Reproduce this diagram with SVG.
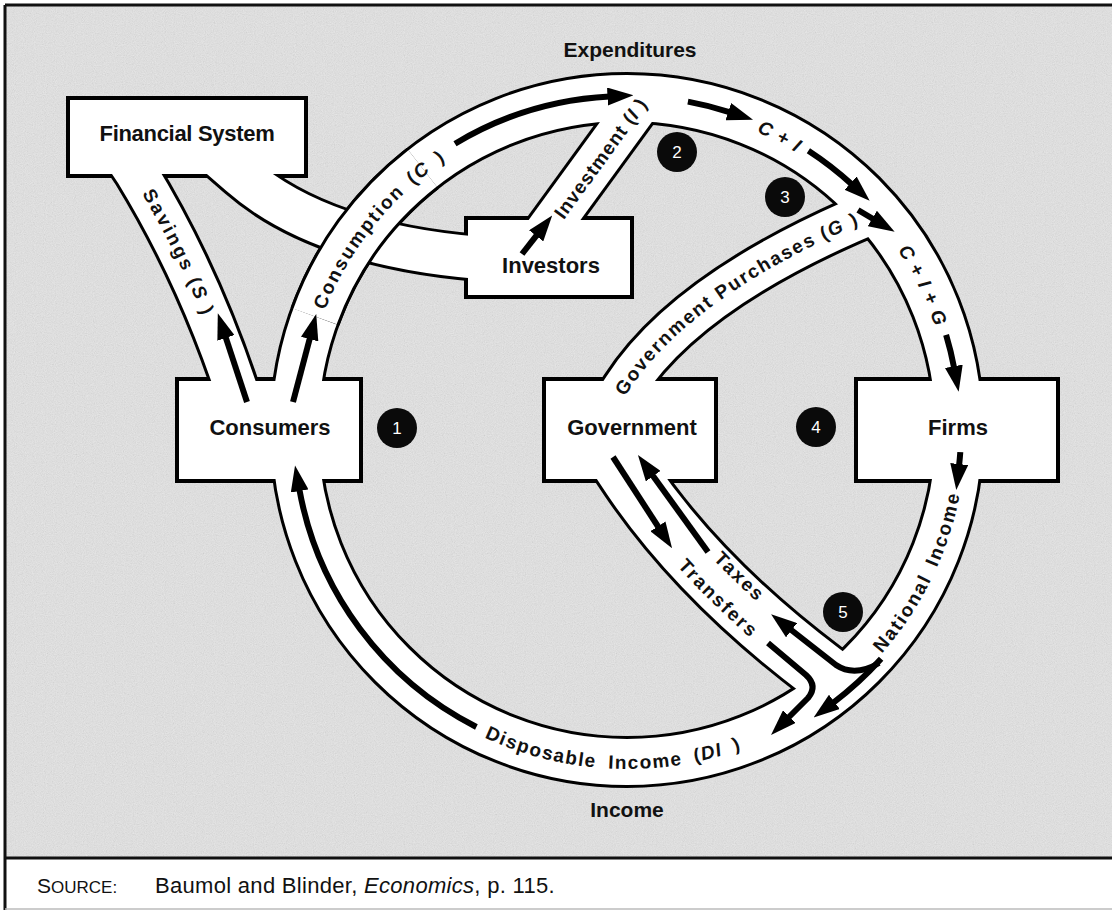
<svg xmlns="http://www.w3.org/2000/svg" width="1112" height="912" viewBox="0 0 1112 912">
<defs>
<style>
.po{fill:none;stroke:#000;stroke-linecap:butt;stroke-linejoin:round}
.pw{fill:none;stroke:#fff;stroke-linecap:butt;stroke-linejoin:round}
.ar{fill:none;stroke:#000;stroke-width:6;stroke-linecap:butt;stroke-linejoin:round;marker-end:url(#ah)}
.lb{font-family:"Liberation Sans",Arial,Helvetica,sans-serif;font-weight:700;fill:#111}
.bx{font-size:22px;text-anchor:middle}
.pl{font-size:19px}
.nt{font-family:"Liberation Sans",Arial,sans-serif;font-size:17px;fill:#fff;text-anchor:middle}
.cap{font-family:"Liberation Sans",Arial,sans-serif;fill:#111}
</style>
<marker id="ah" markerUnits="userSpaceOnUse" viewBox="0 0 26 18" markerWidth="26" markerHeight="18" refX="2" refY="9" orient="auto"><path d="M0,0 L26,9 L0,18 Z" fill="#000"/></marker>
<filter id="grain" filterUnits="objectBoundingBox" x="0" y="0" width="1" height="1">
<feTurbulence type="fractalNoise" baseFrequency="0.9" numOctaves="2" seed="7"/>
<feColorMatrix type="matrix" values="0.33 0.33 0.33 0 0  0.33 0.33 0.33 0 0  0.33 0.33 0.33 0 0  0 0 0 0 0.25"/>
</filter>
<path id="tp_con" d="M306,379.2 A325,325 0 0 1 510.5,126.6"/>
<path id="tp_ci" d="M694.6,112.1 A325,325 0 0 1 848.7,192.3"/>
<path id="tp_cig" d="M860.8,204.2 A325,325 0 0 1 948.8,384.8"/>
<path id="tp_ni" d="M796.5,723.6 A339,339 0 0 0 962.7,382.8"/>
<path id="tp_di" d="M377.1,659 A339,339 0 0 0 856,680"/>
<path id="tp_inv" d="M526,272 L686,52"/>
<path id="tp_gov" d="M608.6,421.7 L627.6,392.7 Q686.6,300.7 853.6,226.7 L879.6,215.7"/>
<path id="tp_sav" d="M95,121 L131,175 Q200,288 241,423"/>
<path id="tp_tax" d="M641,470.6 Q709,571.2 829.8,661.6"/>
<path id="tp_tr" d="M616,488.7 Q686.8,592.9 811,687.2"/>
</defs>

<!-- frame and background -->
<rect x="0" y="0" width="1112" height="912" fill="#fff"/>
<rect x="5" y="5" width="1107" height="853" fill="#e9e9e9"/>
<rect x="5" y="5" width="1107" height="853" filter="url(#grain)"/>
<path d="M5,5 H1112 M5,5 V910 M5,858 H1112" stroke="#111" stroke-width="3" fill="none"/>
<path d="M5,909 H1112" stroke="#bbb" stroke-width="1.5" fill="none"/>

<g id="connectors">
<!-- pipe outlines -->
<g class="po">
<circle cx="627" cy="430" r="332" stroke-width="52"/>
<path d="M100,118 L136,172 Q205,285 246,420" stroke-width="48"/>
<path d="M202,142 L240,175 Q320,245 480,258" stroke-width="48"/>
<path d="M540,240 L639,104" stroke-width="48"/>
<path d="M605,417 L624,388 Q683,296 850,222 L876,211" stroke-width="48"/>
<path d="M609,445 L631,478 Q700,580 822,672 L838,684" stroke-width="64"/>
</g>
<!-- box outlines -->
<g fill="#000">
<rect x="66" y="96" width="242" height="82"/>
<rect x="175" y="377" width="188" height="106"/>
<rect x="464" y="216" width="170" height="83"/>
<rect x="542" y="377" width="176" height="106"/>
<rect x="854" y="377" width="206" height="106"/>
</g>
<!-- pipe interiors -->
<g class="pw">
<circle cx="627" cy="430" r="332" stroke-width="46"/>
<path d="M100,118 L136,172 Q205,285 246,420" stroke-width="42"/>
<path d="M202,142 L240,175 Q320,245 480,258" stroke-width="42"/>
<path d="M540,240 L639,104" stroke-width="42"/>
<path d="M605,417 L624,388 Q683,296 850,222 L876,211" stroke-width="42"/>
<path d="M609,445 L631,478 Q700,580 822,672 L838,684" stroke-width="58"/>
</g>
<!-- ring passes over the financial-system pipe -->
<path class="po" d="M315,316.5 A332,332 0 0 1 422.6,168.4" stroke-width="52"/>
<path class="pw" d="M315,316.5 A332,332 0 0 1 422.6,168.4" stroke-width="46"/>
</g>

<g id="fin"><rect x="70" y="100" width="234" height="74" fill="#fff"/><text class="lb bx" x="187" y="141" letter-spacing="-0.3">Financial System</text></g>
<g id="consumers"><rect x="179" y="381" width="180" height="98" fill="#fff"/><text class="lb bx" x="270" y="435">Consumers</text></g>
<g id="investors"><rect x="468" y="220" width="162" height="75" fill="#fff"/><text class="lb bx" x="551" y="273">Investors</text></g>
<g id="government"><rect x="546" y="381" width="168" height="98" fill="#fff"/><text class="lb bx" x="632" y="435">Government</text></g>
<g id="firms"><rect x="858" y="381" width="198" height="98" fill="#fff"/><text class="lb bx" x="958" y="435">Firms</text></g>

<g id="arrows">
<path class="ar" d="M247,402 L225.3,336.1"/>
<path class="ar" d="M293,402 L310.1,337.2"/>
<path class="ar" d="M455,143.7 A334,334 0 0 1 609.5,96.5"/>
<path class="ar" d="M522,254 L537.4,234.3"/>
<path class="ar" d="M687.9,101.6 A334,334 0 0 1 730.2,112.3"/>
<path class="ar" d="M808.4,150.7 A333,333 0 0 1 852,184.5"/>
<path class="ar" d="M858,210 L874,219.5"/>
<path class="ar" d="M946.1,334.9 A333,333 0 0 1 954.2,368.2"/>
<path class="ar" d="M960.3,452.1 A334,334 0 0 1 959,466.1"/>
<path class="ar" d="M881.1,658.8 A342,342 0 0 1 832.8,703.1"/>
<path class="ar" d="M879,663 C862,673 848,673 836,665 L790,629"/>
<path class="ar" d="M768,643 L806,675 Q818,686 808,698 L788,718"/>
<path class="ar" d="M476.4,727 A333,333 0 0 1 299.3,489"/>
<path class="ar" d="M708,552 L652,474.5"/>
<path class="ar" d="M613,457 L659,528"/>
</g>

<g id="flow-labels" class="lb pl">
<text letter-spacing="2.5"><textPath href="#tp_sav" startOffset="156" text-anchor="middle">Savings (<tspan font-style="italic">S</tspan> )</textPath></text>
<text letter-spacing="2" word-spacing="3"><textPath href="#tp_con" startOffset="50%" text-anchor="middle">Consumption (<tspan font-style="italic">C</tspan> )</textPath></text>
<text letter-spacing="1"><textPath href="#tp_inv" startOffset="50%" text-anchor="middle">Investment (<tspan font-style="italic">I</tspan> )</textPath></text>
<text letter-spacing="1"><textPath href="#tp_ci" startOffset="50%" text-anchor="middle"><tspan font-style="italic">C</tspan> + <tspan font-style="italic">I</tspan></textPath></text>
<text letter-spacing="1"><textPath href="#tp_cig" startOffset="50%" text-anchor="middle"><tspan font-style="italic">C</tspan> + <tspan font-style="italic">I</tspan> + <tspan font-style="italic">G</tspan></textPath></text>
<text letter-spacing="1.8"><textPath href="#tp_gov" startOffset="178" text-anchor="middle">Government Purchases (<tspan font-style="italic">G</tspan> )</textPath></text>
<text letter-spacing="2" word-spacing="4"><textPath href="#tp_ni" startOffset="50%" text-anchor="middle">National Income</textPath></text>
<text letter-spacing="1.5" word-spacing="5"><textPath href="#tp_di" startOffset="50%" text-anchor="middle">Disposable Income (<tspan font-style="italic">DI</tspan> )</textPath></text>
<text letter-spacing="2"><textPath href="#tp_tax" startOffset="54%" text-anchor="middle">Taxes</textPath></text>
<text letter-spacing="2"><textPath href="#tp_tr" startOffset="54%" text-anchor="middle">Transfers</textPath></text>
</g>

<g id="titles" class="lb">
<text x="630" y="57" font-size="21" text-anchor="middle">Expenditures</text>
<text x="627" y="817" font-size="21" text-anchor="middle">Income</text>
</g>

<g id="markers">
<circle cx="397" cy="428" r="20" fill="#0a0a0a"/><text class="nt" x="397" y="434">1</text>
<circle cx="677" cy="152" r="20" fill="#0a0a0a"/><text class="nt" x="677" y="158">2</text>
<circle cx="785" cy="197" r="20" fill="#0a0a0a"/><text class="nt" x="785" y="203">3</text>
<circle cx="816" cy="427" r="20" fill="#0a0a0a"/><text class="nt" x="816" y="433">4</text>
<circle cx="843" cy="612" r="20" fill="#0a0a0a"/><text class="nt" x="843" y="618">5</text>
</g>

<g id="caption" class="cap">
<text x="37" y="893" font-size="21">S<tspan font-size="17">OURCE:</tspan></text>
<text x="155" y="893" font-size="22" letter-spacing="0.3">Baumol and Blinder, <tspan font-style="italic">Economics</tspan>, p. 115.</text>
</g>
</svg>
